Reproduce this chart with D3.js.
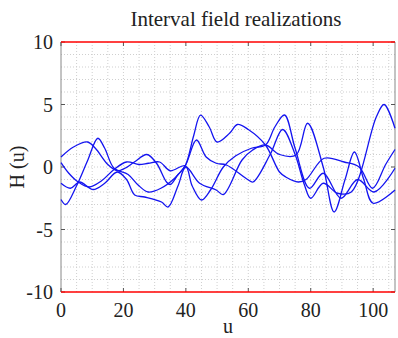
<!DOCTYPE html>
<html lang="en">
<head>
<meta charset="UTF-8">
<title>Interval field realizations</title>
<script src="https://d3js.org/d3.v7.min.js"></script>
<style>
  body { margin: 0; background: #fff; }
  svg { display: block; font-family: "Liberation Serif", "Times New Roman", serif; }
  .grid line { stroke: #cfcfcf; stroke-dasharray: 1,2; stroke-width: 1; }
  .tick-mark { stroke: #555; stroke-width: 1; }
  .frame { stroke: #888; stroke-width: 1; }
  .bound { stroke: #ff0000; stroke-width: 1.6; }
  .realization { fill: none; stroke: #1414f0; stroke-width: 1.3; }
  text { fill: #222; }
</style>
</head>
<body>
<script>
    const width = 398;
    const height = 338;
    const margin = {top: 42, right: 3, bottom: 46, left: 61};

    // axis settings
    const uMax = 107;
    const xTicks = [0, 20, 40, 60, 80, 100];
    const yTicks = [-10, -5, 0, 5, 10];
    const bounds = [-10, 10];

    // realizations (u, H(u))
    const u1 = [0, 4, 8.5, 11, 15, 18, 20.5, 23.5, 27.5, 30.6, 33.8, 35, 37.5, 39.8, 42.5, 44.7, 47.5, 50, 54, 56.5, 60, 65.5, 70, 72, 76, 78.5, 84.3, 90.7, 95.5, 99.8, 104, 107];
    const h1 = [0.8, 1.6, 2.0, 1.5, 0.2, -0.3, -0.1, 0.4, 1.0, 0.3, -1.2, -1.4, -0.6, 0.1, 2.5, 4.15, 3.2, 2.0, 2.7, 3.4, 3.0, 1.76, -0.4, -0.8, -1.2, -1.0, 0.7, 0.4, 0, -1.7, 0.2, 1.4];

    const u2 = [0, 1.5, 5, 8.5, 11.8, 14, 17, 21.5, 24.7, 27.9, 32, 36.4, 39.8, 43.4, 46.5, 49.7, 53, 59.8, 61.5, 67, 71, 75, 78, 80, 84, 88.6, 93, 101, 103.5, 107];
    const h2 = [-2.6, -3.0, -1.5, 0.5, 2.3, 1.5, -0.1, -0.6, -1.44, -2.0, -1.7, -0.9, 0.1, 2.16, 0.8, 0.3, 0.16, -1.0, -1.2, 1.0, 3.0, 1.0, -1.44, -2.5, -1.3, -2.1, -2.0, 4.0, 5.0, 3.1];

    const u3 = [0, 2.5, 5.5, 9, 13, 17, 21, 25, 28, 31.6, 35, 39.8, 42, 45, 48, 52, 56, 61, 65.5, 68.5, 71.6, 75, 79.6, 84, 89.7, 95, 100.3, 107];
    const h3 = [0.35, -0.5, -1.2, -1.6, -1.1, -0.2, 0.4, 0.2, 0.3, 0.4, -0.3, 0.1, -1.5, -2.64, -1.8, 0, 0.9, 1.5, 1.76, 3.2, 4.16, 1.5, -1.7, -0.5, -2.5, -1.0, -2.0, -0.1];

    const u4 = [0, 3, 6, 10.3, 14, 18, 21, 23.6, 26.8, 32.2, 34.3, 37.5, 40, 44.4, 49.7, 52, 58, 61.4, 65.5, 70, 75.3, 79, 84, 87.5, 91, 94, 97, 100, 107];
    const h4 = [-1.3, -1.7, -1.2, -1.8, -1.3, -0.4, -1.0, -2.24, -2.4, -2.8, -3.2, -1.5, 0.0, -1.3, -1.84, -2.2, 0.56, 1.36, 1.76, 1.0, 0.96, 3.5, 0, -3.6, -1.0, 1.2, -1.0, -2.9, -1.84];

    const series = [[u1, h1], [u2, h2], [u3, h3], [u4, h4]]
        .map(([u, h]) => u.map((d, i) => [d, h[i]]));

    const svg = d3.select("body").append("svg")
        .attr("width", width).attr("height", height);

    const x = d3.scaleLinear().domain([0, uMax])
        .range([margin.left, width - margin.right]);
    const y = d3.scaleLinear().domain(bounds)
        .range([height - margin.bottom, margin.top]);

    // dotted grid: every 5 in u, every 1 in H
    const grid = svg.append("g").attr("class", "grid");
    grid.selectAll("line.gx")
        .data(d3.range(5, uMax, 5))
        .enter().append("line")
        .attr("x1", d => x(d)).attr("x2", d => x(d))
        .attr("y1", y(10)).attr("y2", y(-10));
    grid.selectAll("line.gy")
        .data(d3.range(-9, 10, 1))
        .enter().append("line")
        .attr("x1", x(0)).attr("x2", x(uMax))
        .attr("y1", d => y(d)).attr("y2", d => y(d));

    // box sides
    svg.append("line").attr("class", "frame")
        .attr("x1", x(0)).attr("x2", x(0)).attr("y1", y(10)).attr("y2", y(-10));
    svg.append("line").attr("class", "frame")
        .attr("x1", x(uMax)).attr("x2", x(uMax)).attr("y1", y(10)).attr("y2", y(-10));

    // inward tick marks on all four sides
    const tl = 4;
    svg.selectAll("line.xt")
        .data(xTicks.flatMap(d => [[d, y(-10), -tl], [d, y(10), tl]]))
        .enter().append("line").attr("class", "tick-mark")
        .attr("x1", d => x(d[0])).attr("x2", d => x(d[0]))
        .attr("y1", d => d[1]).attr("y2", d => d[1] + d[2]);
    svg.selectAll("line.yt")
        .data(yTicks.flatMap(d => [[d, x(0), tl], [d, x(uMax), -tl]]))
        .enter().append("line").attr("class", "tick-mark")
        .attr("x1", d => d[1]).attr("x2", d => d[1] + d[2])
        .attr("y1", d => y(d[0])).attr("y2", d => y(d[0]));

    // interval bounds
    svg.selectAll("line.bound")
        .data(bounds)
        .enter().append("line").attr("class", "bound")
        .attr("x1", x(0)).attr("x2", x(uMax))
        .attr("y1", d => y(d)).attr("y2", d => y(d));

    // realizations
    const line = d3.line()
        .x(d => x(d[0])).y(d => y(d[1]))
        .curve(d3.curveCatmullRom.alpha(0.5));
    svg.selectAll("path.realization")
        .data(series)
        .enter().append("path")
        .attr("class", "realization")
        .attr("d", line);

    // tick labels
    svg.selectAll("text.xl")
        .data(xTicks)
        .enter().append("text")
        .attr("x", d => x(d)).attr("y", 317)
        .attr("text-anchor", "middle")
        .style("font-size", "20px")
        .text(d => d);
    svg.selectAll("text.yl")
        .data(yTicks)
        .enter().append("text")
        .attr("x", 53).attr("y", d => y(d) + 7)
        .attr("text-anchor", "end")
        .style("font-size", "20px")
        .text(d => d);

    // titles
    svg.append("text")
        .attr("x", 236).attr("y", 26)
        .attr("text-anchor", "middle")
        .style("font-size", "21px")
        .text("Interval field realizations");
    svg.append("text")
        .attr("x", (x(0) + x(uMax)) / 2).attr("y", 333)
        .attr("text-anchor", "middle")
        .style("font-size", "20px")
        .text("u");
    svg.append("text")
        .attr("transform", "translate(24," + y(0) + ") rotate(-90)")
        .attr("text-anchor", "middle")
        .style("font-size", "20px")
        .text("H (u)");
</script>
</body>
</html>
